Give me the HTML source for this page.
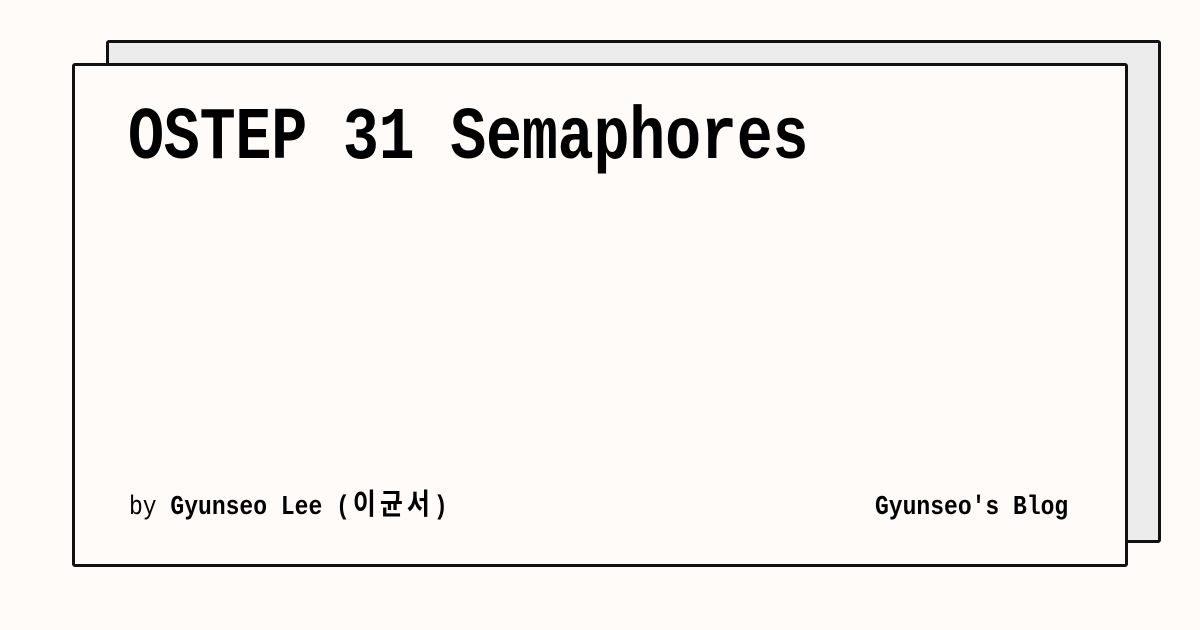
<!DOCTYPE html>
<html><head><meta charset="utf-8"><style>
html,body{margin:0;padding:0;}
body{width:1200px;height:630px;background:#fffbf8;position:relative;overflow:hidden;font-family:"Liberation Mono","Noto Sans CJK KR",monospace;}
.back{position:absolute;left:106px;top:40px;width:1049px;height:497px;background:#ececec;border:3px solid #111;border-radius:3px;}
.front{position:absolute;left:72px;top:63px;width:1050px;height:498px;background:#fffbf8;border:3px solid #111;border-radius:3px;}
.t{position:absolute;white-space:nowrap;color:#000;transform-origin:0 100%;}
.title{left:128px;top:113px;font-size:60px;line-height:70px;font-weight:bold;transform:scaleY(1.24);letter-spacing:-0.2px;}
.by{left:129px;top:495px;font-size:23px;line-height:28px;transform:scaleY(1.15);}
.ko{font-size:25px;letter-spacing:4px;margin-left:3px;}
.blog{left:875px;top:495px;font-size:23px;line-height:28px;font-weight:bold;transform:scaleY(1.15);}
</style></head><body>
<div class="back"></div>
<div class="front"></div>
<div class="t title">OSTEP 31 Semaphores</div>
<div class="t by">by <b>Gyunseo Lee (<span class="ko">이균서</span>)</b></div>
<div class="t blog">Gyunseo's Blog</div>
</body></html>
